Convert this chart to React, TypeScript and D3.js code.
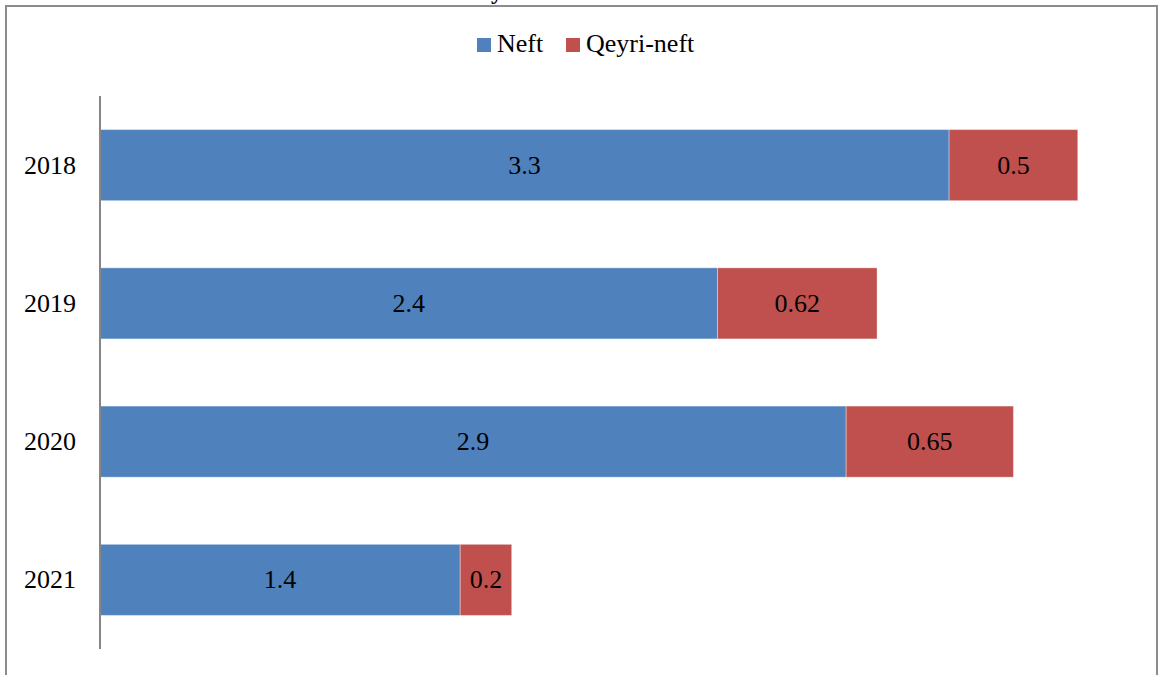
import { useEffect, useRef } from "react";
import * as d3 from "d3";

const years = ["2018", "2019", "2020", "2021"];
const neft = [3.3, 2.4, 2.9, 1.4];
const qeyriNeft = [0.5, 0.62, 0.65, 0.2];
const seriesNames = ["Neft", "Qeyri-neft"];
const colors = ["#4F81BD", "#C0504D"];

export default function App() {
  const svgRef = useRef<SVGSVGElement>(null);

  useEffect(() => {
    if (!svgRef.current) return;
    const svg = d3.select(svgRef.current);
    svg.selectAll("*").remove();

    const height = 675;
    const font = "Liberation Serif, Times New Roman, Times, serif";
    const fs = 26;

    // frame
    svg
      .append("path")
      .attr("d", `M6,${height} L6,6 L1157,6 L1157,${height}`)
      .attr("fill", "none")
      .attr("stroke", "#8c8c8c")
      .attr("stroke-width", 2);

    // title sits above the visible area, only its descender shows
    svg
      .append("text")
      .attr("x", 497)
      .attr("y", -1)
      .attr("text-anchor", "middle")
      .style("font-family", font)
      .attr("font-size", 24)
      .attr("font-weight", "bold")
      .text("y");

    const x = d3.scaleLinear().domain([0, 4]).range([100, 100 + 4 * 257.3]);
    const y = d3
      .scaleBand<string>()
      .domain(years)
      .range([96, 649])
      .paddingInner(0.486)
      .paddingOuter(0.243);

    const rows = years.map((yr, i) => ({ yr, vals: [neft[i], qeyriNeft[i]] }));

    rows.forEach((r) => {
      let acc = 0;
      r.vals.forEach((v, si) => {
        const x0 = x(acc);
        const x1 = x(acc + v);
        acc += v;
        svg
          .append("rect")
          .attr("x", x0)
          .attr("y", y(r.yr)!)
          .attr("width", x1 - x0)
          .attr("height", y.bandwidth())
          .attr("fill", colors[si])
          .attr("stroke", "rgba(255,255,255,0.35)")
          .attr("stroke-width", 1);
        svg
          .append("text")
          .attr("x", (x0 + x1) / 2)
          .attr("y", y(r.yr)! + y.bandwidth() / 2)
          .attr("dy", "0.33em")
          .attr("text-anchor", "middle")
          .style("font-family", font)
          .attr("font-size", fs)
          .attr("fill", "#000")
          .text(String(v));
      });

      svg
        .append("text")
        .attr("x", 50)
        .attr("y", y(r.yr)! + y.bandwidth() / 2)
        .attr("dy", "0.33em")
        .attr("text-anchor", "middle")
        .style("font-family", font)
        .attr("font-size", fs)
        .text(r.yr);
    });

    // y axis line
    svg
      .append("line")
      .attr("x1", 100)
      .attr("x2", 100)
      .attr("y1", 96)
      .attr("y2", 649)
      .attr("stroke", "#868686")
      .attr("stroke-width", 2);

    // legend
    const legendX = [477, 566];
    seriesNames.forEach((name, i) => {
      svg
        .append("rect")
        .attr("x", legendX[i])
        .attr("y", 38)
        .attr("width", 14)
        .attr("height", 14)
        .attr("fill", colors[i]);
      svg
        .append("text")
        .attr("x", legendX[i] + 20)
        .attr("y", 52)
        .style("font-family", font)
        .attr("font-size", fs)
        .text(name);
    });
  }, []);

  return (
    <svg
      ref={svgRef}
      width={1158}
      height={675}
      style={{ position: "absolute", left: 0, top: 0, background: "#fff" }}
    />
  );
}
